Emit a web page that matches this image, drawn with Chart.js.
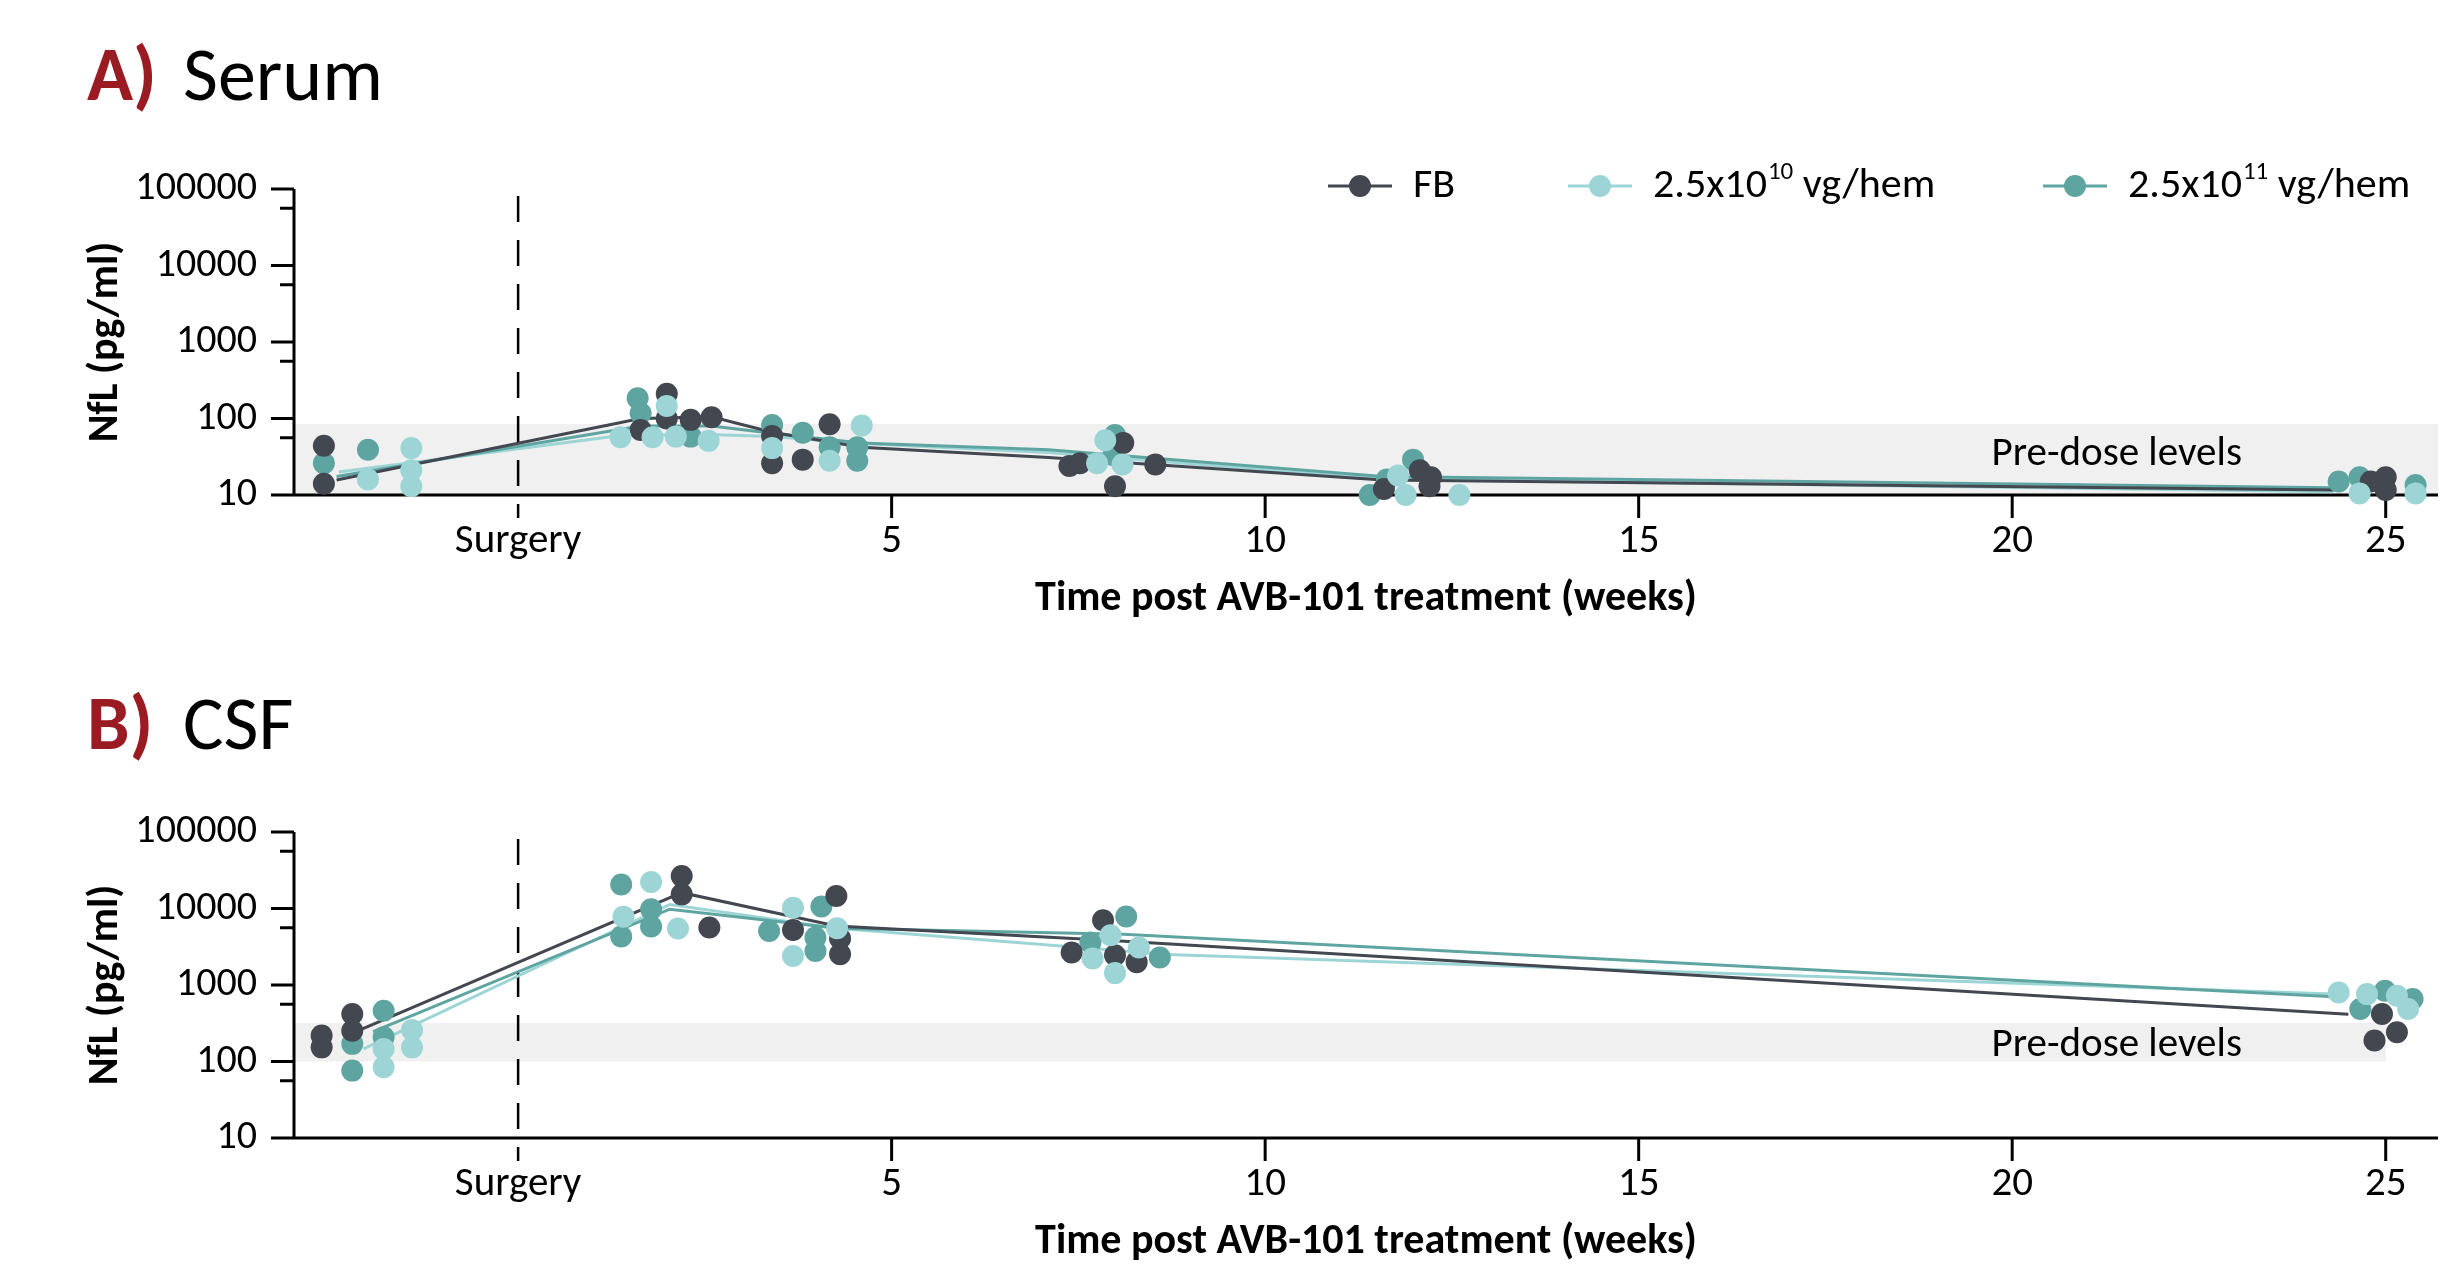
<!DOCTYPE html>
<html>
<head>
<meta charset="utf-8">
<script src="https://cdn.jsdelivr.net/npm/chart.js@4.4.1/dist/chart.umd.min.js"></script>
<style>
  html, body { margin: 0; padding: 0; background: #fff; }
  body { width: 2451px; height: 1283px; position: relative; overflow: hidden; }
  .panel { position: absolute; left: 0; width: 2451px; height: 640px; }
  #serumBox { top: 0; }
  #csfBox { top: 643px; }
</style>
</head>
<body>
<div class="panel" id="serumBox"><canvas id="serum" width="2451" height="640"></canvas></div>
<div class="panel" id="csfBox"><canvas id="csf" width="2451" height="640"></canvas></div>
<script>
// axes
const xTicks = [0, 5, 10, 15, 20, 25];
const yTicks = [10, 100, 1000, 10000, 100000];
const yMinorTicks = [56, 560, 5600, 56000];

// groups: FB, 2.5x10^10 (low), 2.5x10^11 (high)
const groupLabels = [['FB', '', ''], ['2.5x10', '10', ' vg/hem'], ['2.5x10', '11', ' vg/hem']];
const groupColors = ['#424750', '#9dd5d6', '#5ea5a1'];

// A) serum - individual animals
const serumFbWeek = [-2.60, -2.60, 1.64, 1.99, 1.99, 2.31, 2.59, 3.40, 3.40, 3.81, 4.17, 7.38, 7.52, 7.99, 8.10, 8.53, 11.59, 12.07, 12.22, 12.20, 24.80, 25.00, 25.00];
const serumFbNfl = [44, 14, 71, 210, 100, 96, 104, 59, 26, 29, 84, 24, 26, 13, 48, 25, 12, 21, 17, 13, 15, 17, 11.6];
const serumLowWeek = [-2.01, -1.43, -1.43, -1.43, 1.37, 1.80, 1.99, 2.11, 2.55, 3.40, 4.17, 4.60, 7.75, 7.86, 8.09, 11.78, 11.88, 12.60, 24.65, 25.40];
const serumLowNfl = [16, 41, 21, 13, 57, 57, 146, 58, 51, 41, 28, 81, 26, 52, 25, 18, 10, 10, 10.5, 10.5];
const serumHighWeek = [-2.60, -2.01, 1.60, 1.64, 2.31, 3.40, 3.81, 4.17, 4.54, 4.54, 7.97, 7.99, 11.40, 11.63, 11.98, 24.37, 24.65, 25.40];
const serumHighNfl = [26, 39, 184, 117, 58, 82, 65, 42, 42, 28, 33, 61, 10, 16, 29, 15, 17, 13.5];

// A) serum - group lines
const serumFbLineWeek = [-2.43, 1.64, 2.59, 3.40, 4.59, 7.10, 11.57, 24.3];
const serumFbLineNfl = [15.7, 100, 105, 66, 42, 31, 15.7, 11.6];
const serumLowLineWeek = [-2.40, 1.37, 2.55, 3.40, 4.59, 7.10, 11.57, 24.3];
const serumLowLineNfl = [20, 60, 62, 58, 47, 36, 16.2, 11];
const serumHighLineWeek = [-2.43, 1.64, 2.59, 3.40, 4.59, 7.10, 11.57, 24.3];
const serumHighLineNfl = [17.5, 80, 80, 64, 48, 39, 17.5, 12.4];

// B) CSF - individual animals
const csfFbWeek = [-2.63, -2.63, -2.22, -2.22, 2.19, 2.19, 2.56, 3.68, 4.26, 4.31, 4.31, 7.41, 7.83, 7.99, 8.28, 24.85, 24.95, 25.15];
const csfFbNfl = [218, 153, 417, 253, 26500, 15300, 5630, 5250, 14550, 4050, 2530, 2660, 7020, 2450, 1990, 188, 417, 241];
const csfLowWeek = [-1.80, -1.80, -1.42, -1.42, 1.41, 1.78, 2.14, 3.68, 3.68, 4.27, 7.69, 7.93, 7.99, 8.31, 24.37, 24.75, 25.15, 25.30];
const csfLowNfl = [146, 84, 258, 153, 7830, 22200, 5470, 10240, 2400, 5520, 2220, 4460, 1430, 3090, 800, 760, 725, 485];
const csfHighWeek = [-2.22, -2.22, -1.80, -1.80, 1.38, 1.38, 1.78, 1.78, 3.36, 3.98, 3.98, 4.06, 7.66, 8.14, 8.59, 24.66, 24.99, 25.36];
const csfHighNfl = [170, 76, 461, 208, 20650, 4300, 9770, 5810, 5090, 4170, 2790, 10590, 3590, 7840, 2290, 485, 840, 655];

// B) CSF - group lines
const csfFbLineWeek = [-2.21, 2.19, 4.26, 8.0, 24.5];
const csfFbLineNfl = [236, 16100, 5900, 3800, 415];
const csfLowLineWeek = [-2.07, 2.03, 4.27, 8.7, 24.3];
const csfLowLineNfl = [146, 11300, 5500, 2500, 760];
const csfHighLineWeek = [-1.94, 2.03, 4.27, 8.1, 24.3];
const csfHighLineNfl = [246, 9800, 5500, 4600, 700];

// pre-dose bands
const serumBandWeeks = [-3, 25.7];
const serumBandNfl = [10, 85];
const csfBandWeeks = [-3, 25];
const csfBandNfl = [100, 320];
const serumNoteAt = [21.4, 34];
const csfNoteAt = [21.4, 160];

const FONT = 'Carlito, Lato, sans-serif';
Chart.defaults.font.family = FONT;
Chart.defaults.color = '#000';

function toPoints(weeks, vals) {
  return weeks.map((w, i) => ({ x: w, y: vals[i] }));
}

const decor = {
  id: 'decor',
  beforeDatasetsDraw(chart, args, o) {
    const { ctx, scales: { x, y } } = chart;
    ctx.save();
    // pre-dose band
    const bx0 = x.getPixelForValue(o.bandWeeks[0]);
    const bx1 = x.getPixelForValue(o.bandWeeks[1]);
    const by0 = y.getPixelForValue(o.bandNfl[1]);
    const by1 = y.getPixelForValue(o.bandNfl[0]);
    ctx.fillStyle = '#f0f0f0';
    ctx.fillRect(bx0, by0, bx1 - bx0, by1 - by0);
    ctx.fillStyle = '#000';
    ctx.font = '41px ' + FONT;
    ctx.textAlign = 'center';
    ctx.textBaseline = 'middle';
    ctx.fillText('Pre-dose levels', x.getPixelForValue(o.noteAt[0]), y.getPixelForValue(o.noteAt[1]));

    const yTop = y.getPixelForValue(yTicks[yTicks.length - 1]);
    const yBot = y.getPixelForValue(yTicks[0]);
    const xl = x.getPixelForValue(x.min);
    const xr = x.getPixelForValue(x.max);

    // surgery line
    const xs = x.getPixelForValue(0);
    ctx.strokeStyle = '#000';
    ctx.lineWidth = 2.5;
    ctx.setLineDash([26, 18]);
    ctx.beginPath();
    ctx.moveTo(xs, yTop + 7);
    ctx.lineTo(xs, yBot + 23);
    ctx.stroke();
    ctx.setLineDash([]);

    // axes + ticks
    ctx.lineWidth = 3;
    ctx.beginPath();
    ctx.moveTo(xl, yTop);
    ctx.lineTo(xl, yBot);
    ctx.moveTo(xl - 23, yBot);
    ctx.lineTo(xr, yBot);
    yTicks.forEach(v => {
      const p = y.getPixelForValue(v);
      ctx.moveTo(xl - 23, p);
      ctx.lineTo(xl, p);
    });
    yMinorTicks.forEach(v => {
      const p = y.getPixelForValue(v);
      ctx.moveTo(xl - 14, p);
      ctx.lineTo(xl, p);
    });
    xTicks.filter(v => v !== 0).forEach(v => {
      const p = x.getPixelForValue(v);
      ctx.moveTo(p, yBot);
      ctx.lineTo(p, yBot + 23);
    });
    ctx.stroke();
    ctx.restore();
  },
  afterDraw(chart, args, o) {
    const { ctx } = chart;
    ctx.save();
    // panel title
    ctx.textBaseline = 'alphabetic';
    ctx.textAlign = 'left';
    ctx.font = 'bold 76px ' + FONT;
    ctx.fillStyle = '#9b1b23';
    ctx.fillText(o.letter, 87, o.titleBase);
    ctx.font = '76px ' + FONT;
    ctx.fillStyle = '#000';
    ctx.fillText(o.name, 183, o.titleBase);

    // legend (top panel only)
    if (o.legend) {
      const cy = 186;
      const centers = [1360, 1600, 2075];
      groupLabels.forEach((lab, i) => {
        const cx = centers[i];
        ctx.strokeStyle = groupColors[i];
        ctx.lineWidth = 3;
        ctx.beginPath();
        ctx.moveTo(cx - 32, cy);
        ctx.lineTo(cx + 32, cy);
        ctx.stroke();
        ctx.fillStyle = groupColors[i];
        ctx.beginPath();
        ctx.arc(cx, cy, 11, 0, Math.PI * 2);
        ctx.fill();
        ctx.fillStyle = '#000';
        ctx.textBaseline = 'middle';
        let tx = cx + 53;
        ctx.font = '42px ' + FONT;
        ctx.fillText(lab[0], tx, cy);
        tx += ctx.measureText(lab[0]).width;
        if (lab[1]) {
          ctx.font = '25px ' + FONT;
          ctx.fillText(lab[1], tx + 1, cy - 13);
          tx += ctx.measureText(lab[1]).width + 1;
          ctx.font = '42px ' + FONT;
          ctx.fillText(lab[2], tx, cy);
        }
      });
    }
    ctx.restore();
  }
};

function dots(weeks, vals, color, order) {
  return {
    data: toPoints(weeks, vals),
    backgroundColor: color,
    borderWidth: 0,
    pointRadius: 11,
    pointHoverRadius: 11,
    showLine: false,
    clip: false,
    order: order
  };
}

function trend(weeks, vals, color, order) {
  return {
    data: toPoints(weeks, vals),
    borderColor: color,
    borderWidth: 3,
    pointRadius: 0,
    showLine: true,
    tension: 0,
    clip: false,
    order: order
  };
}

function makeChart(id, sets, decorOpts) {
  return new Chart(document.getElementById(id), {
    type: 'scatter',
    data: { datasets: sets },
    options: {
      responsive: false,
      animation: false,
      events: [],
      layout: { padding: { left: 0, top: 189, right: 13, bottom: 15 } },
      plugins: {
        legend: { display: false },
        tooltip: { enabled: false },
        decor: decorOpts
      },
      scales: {
        x: {
          type: 'linear',
          min: -3,
          max: 25.7,
          afterBuildTicks: s => { s.ticks = xTicks.map(v => ({ value: v })); },
          afterFit: s => { s.height = 130; },
          grid: { display: false, drawTicks: false },
          border: { display: false },
          ticks: {
            autoSkip: false,
            maxRotation: 0,
            padding: 22,
            font: { size: 41 },
            callback: v => (v === 0 ? 'Surgery' : String(v))
          },
          title: {
            display: true,
            text: 'Time post AVB-101 treatment (weeks)',
            font: { size: 42, weight: 'bold' },
            padding: { top: 0, bottom: 0 }
          }
        },
        y: {
          type: 'logarithmic',
          min: 10,
          max: 100000,
          afterBuildTicks: s => { s.ticks = yTicks.map(v => ({ value: v })); },
          afterFit: s => { s.width = 294; },
          grid: { display: false, drawTicks: false },
          border: { display: false },
          ticks: {
            autoSkip: false,
            padding: 37,
            font: { size: 40 },
            callback: v => String(v)
          },
          title: {
            display: true,
            text: 'NfL (pg/ml)',
            font: { size: 42, weight: 'bold' },
            padding: { top: 81, bottom: 0 }
          }
        }
      }
    },
    plugins: [decor]
  });
}

makeChart('serum', [
  dots(serumLowWeek, serumLowNfl, groupColors[1], 1),
  dots(serumFbWeek, serumFbNfl, groupColors[0], 2),
  dots(serumHighWeek, serumHighNfl, groupColors[2], 3),
  trend(serumFbLineWeek, serumFbLineNfl, groupColors[0], 4),
  trend(serumHighLineWeek, serumHighLineNfl, groupColors[2], 5),
  trend(serumLowLineWeek, serumLowLineNfl, groupColors[1], 6)
], {
  letter: 'A)', name: 'Serum', titleBase: 100, legend: true,
  bandWeeks: serumBandWeeks, bandNfl: serumBandNfl, noteAt: serumNoteAt
});

makeChart('csf', [
  dots(csfLowWeek, csfLowNfl, groupColors[1], 1),
  dots(csfFbWeek, csfFbNfl, groupColors[0], 2),
  dots(csfHighWeek, csfHighNfl, groupColors[2], 3),
  trend(csfFbLineWeek, csfFbLineNfl, groupColors[0], 4),
  trend(csfHighLineWeek, csfHighLineNfl, groupColors[2], 5),
  trend(csfLowLineWeek, csfLowLineNfl, groupColors[1], 6)
], {
  letter: 'B)', name: 'CSF', titleBase: 106, legend: false,
  bandWeeks: csfBandWeeks, bandNfl: csfBandNfl, noteAt: csfNoteAt
});
</script>
</body>
</html>
